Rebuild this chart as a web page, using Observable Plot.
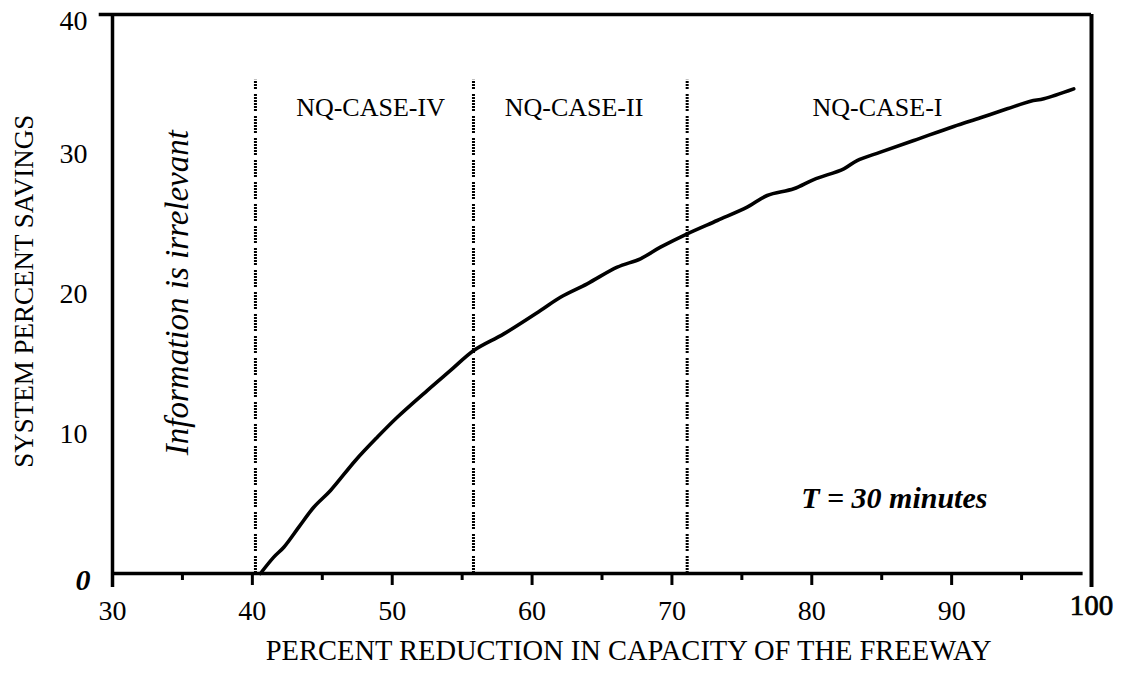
<!DOCTYPE html>
<html>
<head>
<meta charset="utf-8">
<script src="https://cdn.jsdelivr.net/npm/d3@7"></script>
<script src="https://cdn.jsdelivr.net/npm/@observablehq/plot@0.6"></script>
<style>
  html, body { margin: 0; padding: 0; background: #fff; }
  #chart svg { display: block; }
</style>
</head>
<body>
<div id="chart"></div>
<script>
// ---- data ----
const capacityReduction = [40.58, 41.53, 42.25, 43.32, 44.39, 45.59, 47.37, 48.93, 50.36, 52.50, 54.17, 55.83, 57.98, 60.60, 62.03, 63.94, 66.09, 67.75, 69.18, 71.09, 73.24, 75.38, 76.81, 78.71, 80.14, 82.29, 83.24, 84.91, 87.29, 90.15, 92.06, 93.97, 95.64, 96.59, 98.73];
const percentSavings   = [0.00, 1.17, 1.88, 3.32, 4.74, 5.94, 8.09, 9.75, 11.18, 13.09, 14.53, 15.96, 17.15, 18.82, 19.77, 20.73, 21.92, 22.52, 23.35, 24.31, 25.26, 26.21, 27.05, 27.53, 28.19, 28.96, 29.55, 30.15, 30.98, 31.99, 32.61, 33.25, 33.79, 33.97, 34.68];

const dividerX = [40.22, 55.81, 71.09];
const dividerTop = 35.3;
const caseLabels = ["NQ-CASE-IV", "NQ-CASE-II", "NQ-CASE-I"];
const caseLabelX = [48.45, 63.0, 84.7];
const caseLabelY = 33.3;

const xTickLabels = [30, 40, 50, 60, 70, 80, 90];
const xLastLabel = [100];
const xMajorTicks = [30, 40, 50, 60, 70, 80, 90];
const xMinorTicks = [35, 45, 55, 65, 75, 85, 95];
const yTickLabels = [10, 20, 30];
const yTopLabel = [40];
const yZeroLabel = [0];

const irrelevantText = "Information is irrelevant";
const irrelevantX = 34.65, irrelevantY = 20.1;
const durationText = "T = 30 minutes";
const durationX = 85.9, durationY = 5.4;

const xTitle = "PERCENT REDUCTION IN CAPACITY OF THE FREEWAY";
const xTitleX = 66.9;
const yTitle = "SYSTEM PERCENT SAVINGS";
const yTitleY = 20.2;

// ---- build ----
const curve = capacityReduction.map((x, i) => ({x, y: percentSavings[i]}));
const cases = caseLabels.map((t, i) => ({t, x: caseLabelX[i]}));

const font = "'Liberation Serif', 'Times New Roman', serif";

const chart = Plot.plot({
  width: 1124,
  height: 677,
  marginLeft: 112,
  marginRight: 33,
  marginTop: 14,
  marginBottom: 104,
  style: {fontFamily: font, background: "#fff", color: "#000"},
  x: {domain: [30, 100]},
  y: {domain: [0, 40]},
  marks: [
    // tick labels
    Plot.axisX({ticks: xTickLabels, tickSize: 0, tickPadding: 27, fontSize: 28, label: null}),
    Plot.axisX({ticks: xMajorTicks, tickSize: 12, strokeWidth: 3, text: null, label: null}),
    Plot.axisX({ticks: xMinorTicks, tickSize: 7, strokeWidth: 3, text: null, label: null}),
    Plot.text(xLastLabel, {x: d => d, frameAnchor: "bottom", dy: 41, text: d => String(d), fontSize: 29, stroke: "#000", strokeWidth: 0.7, fill: "#000"}),
    Plot.axisY({ticks: yTickLabels, tickSize: 0, tickPadding: 25, fontSize: 28, label: null}),
    Plot.text(yTopLabel, {x: 30, y: d => d, text: d => String(d), dx: -25, dy: 7, textAnchor: "end", fontSize: 28}),
    Plot.text(yZeroLabel, {x: 30, y: d => d, text: d => String(d), dx: -22, dy: 7, textAnchor: "end", fontSize: 30, fontWeight: "bold", fontStyle: "italic"}),
    // axis titles
    Plot.text([xTitle], {x: xTitleX, frameAnchor: "bottom", dy: 86, text: d => d, fontSize: 28.5}),
    Plot.text([yTitle], {y: yTitleY, frameAnchor: "left", dx: -88, rotate: -90, textAnchor: "middle", text: d => d, fontSize: 27}),
    // frame lines
    Plot.ruleX([30], {y1: -1, y2: 40, strokeWidth: 3.5}),
    Plot.ruleX([100], {y1: -1, y2: 40, strokeWidth: 4}),
    Plot.ruleY([40], {x1: 29.05, x2: 100, strokeWidth: 3.5}),
    Plot.ruleY([0], {x1: 30, x2: 99.4, strokeWidth: 3.5}),
    // dotted region dividers
    Plot.ruleX(dividerX, {y1: 0, y2: dividerTop, stroke: "#000", strokeWidth: 3, strokeDasharray: "2,1,2,1,2,1,2,1,2,1,2,5"}),
    // region labels
    Plot.text(cases, {x: "x", y: caseLabelY, text: "t", fontSize: 26}),
    Plot.text([irrelevantText], {x: irrelevantX, y: irrelevantY, text: d => d, rotate: -90, fontSize: 33, fontStyle: "italic"}),
    Plot.text([durationText], {x: durationX, y: durationY, text: d => d, fontSize: 30, fontWeight: "bold", fontStyle: "italic"}),
    // the savings curve
    Plot.line(curve, {x: "x", y: "y", curve: "catmull-rom", stroke: "#000", strokeWidth: 3.6, strokeLinejoin: "round", strokeLinecap: "round"})
  ]
});

document.getElementById("chart").appendChild(chart);
</script>
</body>
</html>
